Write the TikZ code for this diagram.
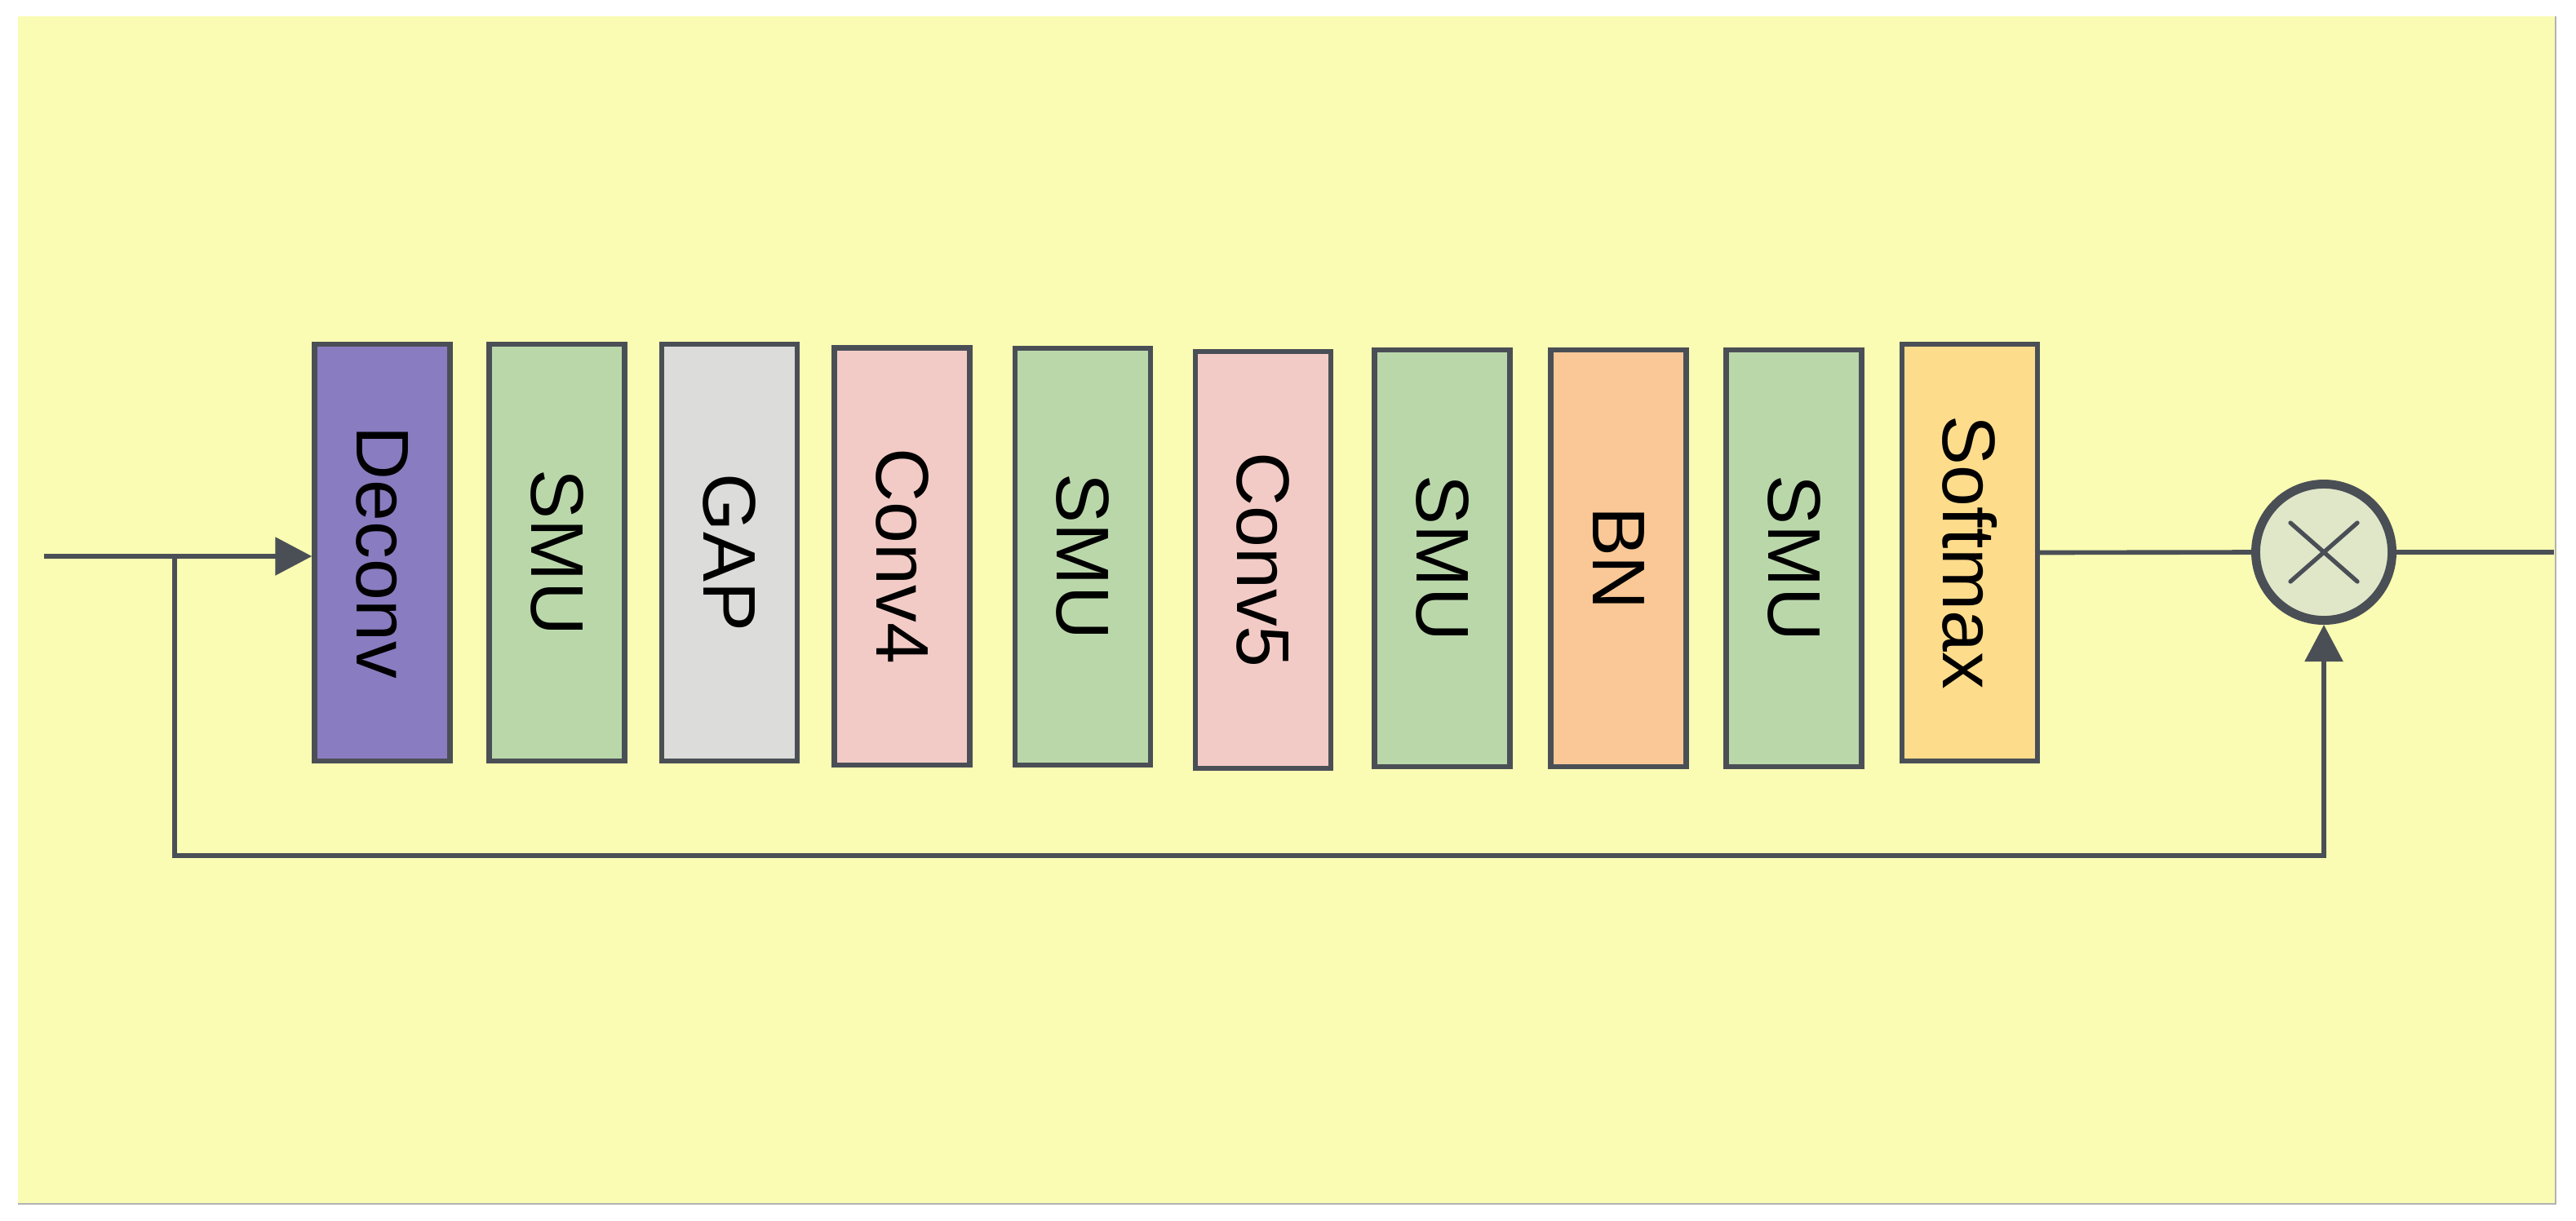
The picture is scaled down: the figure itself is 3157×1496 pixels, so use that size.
\documentclass[tikz,border=0pt]{standalone}
\usepackage{fontspec}
\setmainfont{Liberation Sans}
\usepackage{graphicx}
\usetikzlibrary{arrows.meta,calc}
\definecolor{bgyel}{RGB}{249,252,178}
\definecolor{linegray}{RGB}{74,79,86}
\definecolor{cdeconv}{RGB}{138,124,192}
\definecolor{csmu}{RGB}{186,215,170}
\definecolor{cgap}{RGB}{220,220,218}
\definecolor{cconv}{RGB}{243,203,198}
\definecolor{cbn}{RGB}{250,200,150}
\definecolor{csoft}{RGB}{253,220,140}
\definecolor{cmul}{RGB}{224,231,200}
\tikzset{
  blk/.style={draw=linegray, line width=1.8pt, minimum width=1.66cm, minimum height=5.11cm, inner sep=0pt, font=\fontsize{26}{30}\selectfont},
  conn/.style={draw=linegray, line width=1.6pt},
  arr/.style={conn, -{Triangle[length=0.45cm,width=0.46cm]}},
}
\newcommand{\vtxt}[1]{\rotatebox{-90}{#1}}
\begin{document}
\begin{tikzpicture}[x=0.01cm,y=-0.01cm]
\useasboundingbox (0,0) rectangle (3157,1496);
\fill[bgyel] (22,20) rectangle (3132,1476);
\draw[gray!60, line width=0.4pt] (3132,20) -- (3132,1476) -- (22,1476);

\node[blk, fill=cdeconv] (deconv) at (468.5,677.5) {\vtxt{Deconv}};
\node[blk, fill=csmu] (smua) at (682.5,677.5) {\vtxt{SMU}};
\node[blk, fill=cgap] (gap) at (894,677.5) {\vtxt{GAP}};
\node[blk, fill=cconv] (conva) at (1105.5,682) {\vtxt{Conv4}};
\node[blk, fill=csmu] (smub) at (1327,682.5) {\vtxt{SMU}};
\node[blk, fill=cconv] (convb) at (1548,686.5) {\vtxt{Conv5}};
\node[blk, fill=csmu] (smuc) at (1767.5,684.5) {\vtxt{SMU}};
\node[blk, fill=cbn] (bn) at (1983.5,684.5) {\vtxt{BN}};
\node[blk, fill=csmu] (smud) at (2198.5,684.5) {\vtxt{SMU}};
\node[blk, fill=csoft] (soft) at (2414,677.5) {\vtxt{Softmax}};

\node[circle, draw=linegray, line width=3.1pt, fill=cmul, minimum size=1.67cm, inner sep=0pt] (mul) at (2848,677) {};
\draw[linegray, line width=1.5pt, line cap=round] ($(mul.center)+(-41,-36)$) -- ($(mul.center)+(41,36)$);
\draw[linegray, line width=1.5pt, line cap=round] ($(mul.center)+(-41,36)$) -- ($(mul.center)+(41,-36)$);

\coordinate (in) at (54,682);
\coordinate (br) at (214,682);
\coordinate (bot) at (214,1049);
\coordinate (out) at (3130,677);

\draw[arr] (in) -- (in -| deconv.west);
\foreach \a/\b in {deconv/smua, smua/gap, gap/conva, conva/smub, smub/convb, convb/smuc, smuc/bn, bn/smud, smud/soft}
  \draw[conn] ($(\a.east)+(0,3)$) -- ($(\a.east)+(0,3)$ -| \b.west);
\draw[conn] (soft.east) -- (mul.west);
\draw[conn] (mul.east) -- (out);
\draw[arr] (br) -- (bot) -| (mul.south);
\end{tikzpicture}
\end{document}
